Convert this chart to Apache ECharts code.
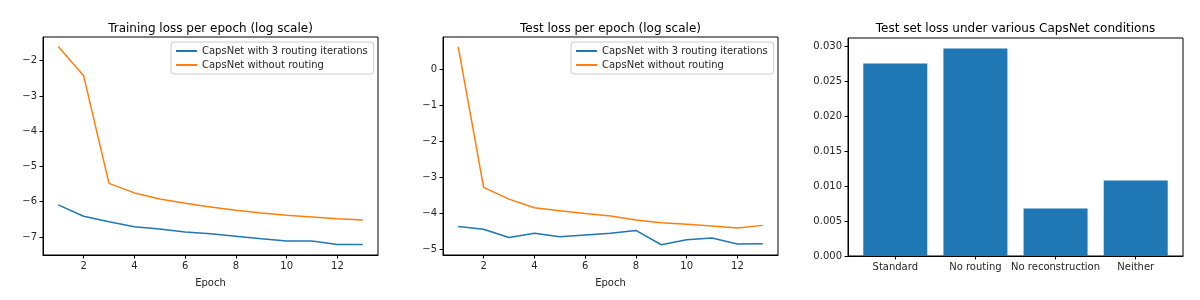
<!DOCTYPE html>
<html>
<head>
<meta charset="utf-8">
<script src="https://cdn.jsdelivr.net/npm/echarts@6/dist/echarts.min.js"></script>
<style>
html,body{margin:0;padding:0;background:#fff;}
#chart{width:1200px;height:300px;}
</style>
</head>
<body>
<div id="chart"></div>
<script>
// ---- data ----
const epochs = [1,2,3,4,5,6,7,8,9,10,11,12,13];
const seriesNames = ['CapsNet with 3 routing iterations', 'CapsNet without routing'];
const trainRouting = [-6.09,-6.41,-6.57,-6.71,-6.77,-6.86,-6.91,-6.98,-7.05,-7.11,-7.11,-7.21,-7.21];
const trainNoRouting = [-1.60,-2.43,-5.48,-5.75,-5.92,-6.04,-6.15,-6.24,-6.32,-6.38,-6.43,-6.48,-6.52];
const testRouting = [-4.37,-4.45,-4.68,-4.56,-4.66,-4.61,-4.56,-4.48,-4.88,-4.74,-4.69,-4.86,-4.85];
const testNoRouting = [0.63,-3.28,-3.61,-3.85,-3.93,-4.01,-4.08,-4.19,-4.27,-4.31,-4.36,-4.41,-4.34];
const barCategories = ['Standard','No routing','No reconstruction','Neither'];
const barValues = [0.02755,0.0297,0.00678,0.01079];
const epochTicks = [2,4,6,8,10,12];
const trainTicks = [-7,-6,-5,-4,-3,-2];
const testTicks = [-5,-4,-3,-2,-1,0];
const barTicks = [0,0.005,0.01,0.015,0.02,0.025,0.03];
const titles = ['Training loss per epoch (log scale)','Test loss per epoch (log scale)','Test set loss under various CapsNet conditions'];

const BLUE = '#1f77b4', ORANGE = '#ff7f0e';
const FONT = 'DejaVu Sans';
const txt = '#262626';
const minus = v => String(v).replace('-', '\u2212');

function pairs(xs, ys){ return xs.map((x,i)=>[x, ys[i]]); }

const grids = [
  {left:43, top:37, width:335, height:218},
  {left:443, top:37, width:335, height:218},
  {left:848, top:38, width:335, height:218}
];
grids.forEach(g=>{ g.show=true; g.borderColor='#000'; g.borderWidth=1; g.containLabel=false; });

function baseAxis(extra){
  return Object.assign({
    axisLine:{show:true, onZero:false, lineStyle:{color:'#000', width:1}},
    axisTick:{show:true, inside:false, length:3.5, lineStyle:{color:'#000', width:1}},
    axisLabel:{show:true, color:txt, fontFamily:FONT, fontSize:10, margin:6},
    splitLine:{show:false}
  }, extra);
}
function withCustom(ax, vals, fmt){
  ax.axisTick.customValues = vals;
  ax.axisLabel.customValues = vals;
  if (fmt) ax.axisLabel.formatter = fmt;
  return ax;
}

const xEpoch = i => withCustom(baseAxis({type:'value', gridIndex:i, min:0.4, max:13.6,
  name:'Epoch', nameLocation:'middle', nameGap:23,
  nameTextStyle:{color:txt, fontFamily:FONT, fontSize:10}}), epochTicks);

const xAxes = [
  xEpoch(0), xEpoch(1),
  withCustom(baseAxis({type:'value', gridIndex:2, min:-0.59, max:3.59}), [0,1,2,3], v=>barCategories[Math.round(v)] || '')
];
const yAxes = [
  withCustom(baseAxis({type:'value', gridIndex:0, min:-7.51, max:-1.33}), trainTicks, minus),
  withCustom(baseAxis({type:'value', gridIndex:1, min:-5.165, max:0.906}), testTicks, minus),
  withCustom(baseAxis({type:'value', gridIndex:2, min:0, max:0.03119}), barTicks, v=>v.toFixed(3))
];

function lineSeries(name, color, data, idx){
  return {type:'line', name, xAxisIndex:idx, yAxisIndex:idx, data, symbol:'none', showSymbol:false,
    lineStyle:{color, width:1.5}, itemStyle:{color}, animation:false, silent:true};
}

function legendAt(left){
  return {left, top:42, orient:'vertical', data:seriesNames, itemWidth:21, itemHeight:10, itemGap:2,
    padding:[3,6,3,4], borderColor:'#cccccc', borderWidth:1, borderRadius:3, backgroundColor:'#fff',
    itemStyle:{opacity:0, borderWidth:0},
    lineStyle:{width:2},
    textStyle:{color:txt, fontFamily:FONT, fontSize:10, lineHeight:12}, selectedMode:false};
}

const option = {
  animation:false,
  backgroundColor:'#fff',
  title: titles.map((t,i)=>({text:t, left:grids[i].left + grids[i].width/2, top:23, textAlign:'center', padding:0,
    textStyle:{color:'#000', fontFamily:FONT, fontSize:12, fontWeight:'normal'}})),
  legend:[legendAt(171), legendAt(571)],
  grid: grids,
  xAxis: xAxes,
  yAxis: yAxes,
  series:[
    lineSeries(seriesNames[0], BLUE, pairs(epochs, trainRouting), 0),
    lineSeries(seriesNames[1], ORANGE, pairs(epochs, trainNoRouting), 0),
    lineSeries(seriesNames[0], BLUE, pairs(epochs, testRouting), 1),
    lineSeries(seriesNames[1], ORANGE, pairs(epochs, testNoRouting), 1),
    {type:'bar', xAxisIndex:2, yAxisIndex:2, data:barValues.map((v,i)=>[i,v]), barWidth:64,
      itemStyle:{color:BLUE}, silent:true}
  ]
};

const chart = echarts.init(document.getElementById('chart'), null, {renderer:'canvas'});
chart.setOption(option);
</script>
</body>
</html>
